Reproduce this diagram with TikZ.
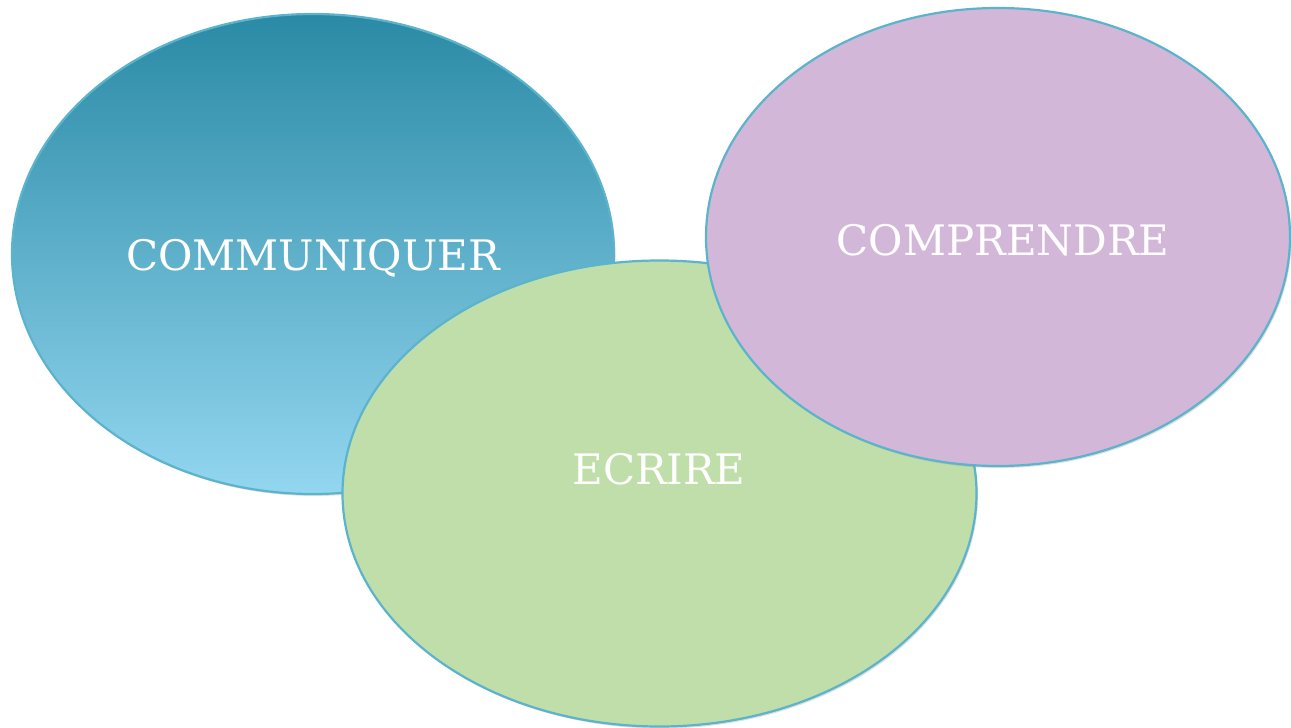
\documentclass[tikz,border=0pt]{standalone}
\usepackage{fontspec}
\setmainfont{DejaVu Serif}
\usetikzlibrary{shadows}
\definecolor{bluetop}{HTML}{2A8AA5}
\definecolor{bluebot}{HTML}{93D6F0}
\definecolor{greenfill}{HTML}{BFDEA9}
\definecolor{purplefill}{HTML}{D3B7D8}
\definecolor{rim}{HTML}{5BB3CC}
\tikzset{
  blob/.style={draw=rim, line width=2.2pt, drop shadow={shadow xshift=1.5pt, shadow yshift=-2pt, opacity=0.25}},
  lbl/.style={text=white, font=\fontsize{42}{42}\selectfont, inner sep=0pt}
}
\begin{document}
\begin{tikzpicture}[x=1pt,y=-1pt]
\useasboundingbox (0,0) rectangle (1291,728);
\path[blob, top color=bluetop, bottom color=bluebot] (313,254) ellipse [x radius=301, y radius=240];
\node[lbl] (comm) at (313,258) {COMMUNIQUER};
\path[blob, fill=greenfill] (659.5,493.5) ellipse [x radius=317, y radius=233];
\node[lbl] (ecr) at (659,469) {ECRIRE};
\path[blob, fill=purplefill] (998,237) ellipse [x radius=292, y radius=229];
\node[lbl] (comp) at (1003,240) {COMPRENDRE};
\end{tikzpicture}
\end{document}
